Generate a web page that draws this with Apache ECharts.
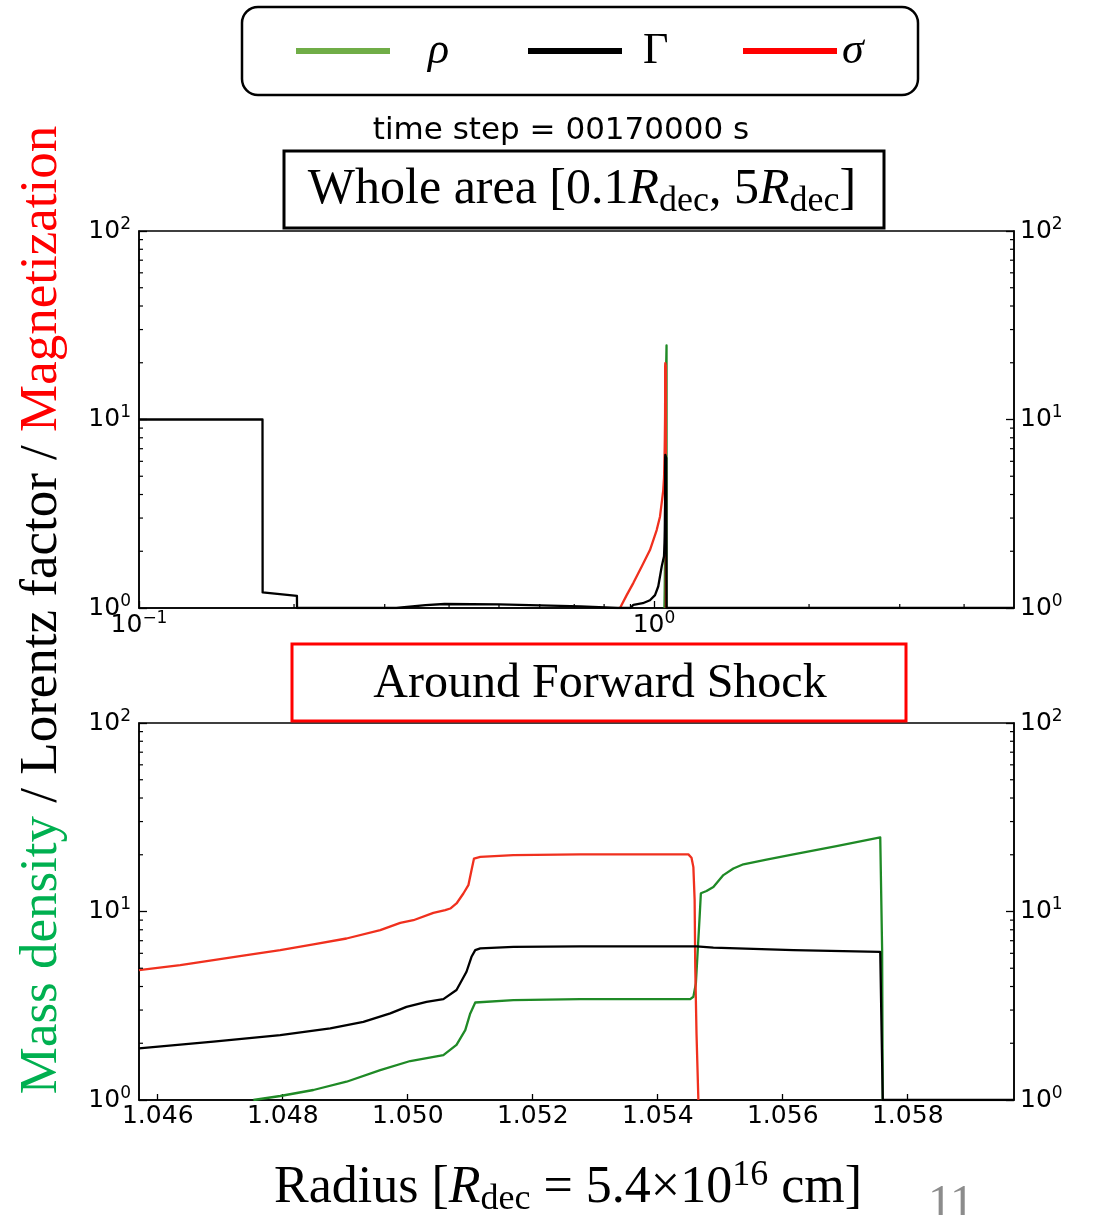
<!DOCTYPE html>
<html><head><meta charset="utf-8">
<script src="https://cdn.jsdelivr.net/npm/echarts@6.0.0/dist/echarts.min.js"></script>
<style>html,body{margin:0;padding:0;background:#fff}#c{width:1094px;height:1215px}</style>
</head><body><div id="c"></div>
<script>
// ---------- DATA ----------
// Top panel (whole area, log x) - parts away from the shock
const gammaRise = [[0.1,10],[0.1737,10],[0.1738,1.21],[0.2026,1.16],[0.2027,1.0],[0.316,1.0],[0.36,1.035],[0.392,1.05],[0.5,1.045],[0.72,1.02],[0.85,1.0],[0.9,1.0],[0.912,1.04],[0.951,1.06],[0.982,1.10],[1.0045,1.17],[1.019,1.30],[1.035,1.66]];
const gammaTail = [[5,1.0]];
const sigmaRise = [[0.859,1.0],[0.885,1.17],[0.912,1.36],[0.9465,1.66],[0.982,2.03],[1.012,2.59],[1.027,3.05],[1.042,4.2]];
// Around forward shock (radius in R_dec, value)
const gammaShock = [[1.0457,1.88],[1.04689,2.04],[1.04796,2.21],[1.04876,2.40],[1.04929,2.60],[1.04972,2.88],[1.04998,3.12],[1.0503,3.32],[1.05057,3.43],[1.05078,3.83],[1.05094,4.79],[1.05102,5.75],[1.05108,6.24],[1.05116,6.37],[1.05169,6.49],[1.05276,6.53],[1.05462,6.53],[1.05489,6.43],[1.05617,6.24],[1.05756,6.11],[1.0576,1.0],[1.0597,1.0]];
const sigmaShock = [[1.0457,4.89],[1.04636,5.19],[1.04689,5.52],[1.04742,5.87],[1.04796,6.24],[1.04849,6.69],[1.04902,7.19],[1.04956,7.96],[1.04988,8.70],[1.05009,8.99],[1.05041,9.83],[1.0506,10.16],[1.05068,10.37],[1.05078,11.03],[1.05089,12.46],[1.05097,13.79],[1.05102,16.55],[1.05106,19.09],[1.05116,19.47],[1.05169,19.9],[1.05276,20.1],[1.05449,20.1],[1.05454,19.3],[1.05457,17.2],[1.05459,11.5],[1.0546,5.09],[1.05462,2.26],[1.05465,1.0]];
const rhoShock = [[1.04753,1.0],[1.04796,1.05],[1.04849,1.13],[1.04902,1.25],[1.04956,1.44],[1.05004,1.61],[1.05057,1.73],[1.05078,1.96],[1.05092,2.35],[1.051,2.88],[1.05108,3.29],[1.05169,3.39],[1.05276,3.43],[1.05452,3.43],[1.05457,3.53],[1.05461,4.15],[1.05464,6.24],[1.05467,9.36],[1.05469,12.5],[1.05478,12.85],[1.05489,13.5],[1.05505,15.6],[1.05521,16.9],[1.05537,17.8],[1.05574,18.86],[1.05617,20.1],[1.05686,22.2],[1.05756,24.7],[1.05758,24.4],[1.05759,6.24],[1.0576,1.0]];
// axis ticks
const yMinorTicks = [2,3,4,5,6,7,8,9,20,30,40,50,60,70,80,90];
const xMinorTicksWhole = [0.2,0.3,0.4,0.5,0.6,0.7,0.8,0.9,2,3,4];

const gammaWhole = gammaRise.concat(gammaShock, gammaTail);
const sigmaWhole = sigmaRise.concat(sigmaShock);
const rhoWhole = rhoShock;

// ---------- STYLE ----------
const GREEN = '#1f8a26', RED = '#f0301e', BLACK = '#000';
const SERIF = 'Liberation Serif', SANS = 'DejaVu Sans';

function pow10(v){
  const l = Math.log10(v), e = Math.round(l);
  if (Math.abs(l - e) > 1e-6) return '';
  return '{b|10}{s|' + (e < 0 ? '\u2212' + (-e) : e) + '}';
}
const powRich = {
  b:{fontFamily:SANS,fontSize:25,color:'#000',lineHeight:30},
  s:{fontFamily:SANS,fontSize:17,color:'#000',lineHeight:17,verticalAlign:'top'}
};
function logY(gridIndex, pos){
  return {type:'log', gridIndex, position:pos, min:1, max:100, logBase:10,
    axisLine:{show:true,lineStyle:{color:'#000',width:1.5}},
    axisTick:{show:true,inside:true,length:8,lineStyle:{color:'#000',width:1.3}},
    splitLine:{show:false},
    axisLabel:{formatter:pow10, rich:powRich, margin:pos==='left'?8:6}};
}
function tickSeries(xIdx, yIdx, vals, axis, refVal, len){
  return {type:'custom', xAxisIndex:xIdx, yAxisIndex:yIdx, silent:true, z:10, clip:false,
    data: vals.map(v => axis==='y' ? [refVal, v] : [v, refVal]),
    renderItem: function(params, api){
      const cs = params.coordSys;
      const p = api.coord([api.value(0), api.value(1)]);
      const st = {stroke:'#000', lineWidth:1.2};
      if (axis === 'y') return {type:'group', children:[
        {type:'line', shape:{x1:cs.x, y1:p[1], x2:cs.x+len, y2:p[1]}, style:st},
        {type:'line', shape:{x1:cs.x+cs.width-len, y1:p[1], x2:cs.x+cs.width, y2:p[1]}, style:st}]};
      return {type:'line', shape:{x1:p[0], y1:cs.y+cs.height, x2:p[0], y2:cs.y+cs.height-len}, style:st};
    }};
}
function line(name, data, xi, yi, color){
  return {name, type:'line', data, xAxisIndex:xi, yAxisIndex:yi, showSymbol:false, symbol:'none',
    lineStyle:{color, width:2.3, join:'round'}, itemStyle:{color}, z:3};
}

const serifRich = {
  t:{fontFamily:SERIF,fontSize:50,fill:'#000',lineHeight:60},
  i:{fontFamily:SERIF,fontSize:50,fontStyle:'italic',fill:'#000',lineHeight:60},
  sub:{fontFamily:SERIF,fontSize:36,fill:'#000',lineHeight:34,verticalAlign:'bottom'},
  sup:{fontFamily:SERIF,fontSize:36,fill:'#000',lineHeight:30,verticalAlign:'top'}
};
const serifRich2 = JSON.parse(JSON.stringify(serifRich));
['t','i'].forEach(k=>{serifRich2[k].fontSize=52;});

const chart = echarts.init(document.getElementById('c'), null, {renderer:'canvas'});
chart.setOption({
  animation:false,
  backgroundColor:'#fff',
  grid:[
    {left:139, top:231, width:875, height:377, show:true, borderColor:'#000', borderWidth:1.5},
    {left:139, top:723, width:875, height:377, show:true, borderColor:'#000', borderWidth:1.5}
  ],
  xAxis:[
    {type:'log', gridIndex:0, min:0.1, max:5, logBase:10,
      axisLine:{lineStyle:{color:'#000',width:1.5}},
      axisTick:{inside:true,length:7,lineStyle:{color:'#000',width:1.3}},
      splitLine:{show:false},
      axisLabel:{formatter:pow10, rich:powRich, margin:2, showMaxLabel:false}},
    {type:'value', gridIndex:1, min:1.0457, max:1.0597, splitNumber:7,
      axisLine:{lineStyle:{color:'#000',width:1.5}},
      axisTick:{inside:true,length:6,lineStyle:{color:'#000',width:1.3}},
      splitLine:{show:false},
      axisLabel:{formatter:v=>v.toFixed(3), fontFamily:SANS, fontSize:25, color:'#000', margin:4,
        showMinLabel:false, showMaxLabel:false}}
  ],
  yAxis:[ logY(0,'left'), logY(0,'right'), logY(1,'left'), logY(1,'right') ],
  legend:{
    left:242, top:7, orient:'horizontal', icon:'rect', itemWidth:94, itemHeight:6, itemGap:5,
    padding:[22,50,22,54], borderColor:'#000', borderWidth:2.5, borderRadius:16, selectedMode:false,
    data:[{name:'ρ',itemStyle:{color:'#70AD47'}},{name:'Γ',itemStyle:{color:'#000'}},{name:'σ',itemStyle:{color:'#FF0000'}}],
    formatter:n => n==='ρ' ? '{r|ρ}' : (n==='Γ' ? '{g|Γ}' : '{s|σ}'),
    textStyle:{rich:{
      r:{fontFamily:SERIF,fontStyle:'italic',fontSize:44,lineHeight:44,width:95,padding:[0,0,0,33],color:'#000'},
      g:{fontFamily:SERIF,fontSize:44,lineHeight:44,width:95,padding:[0,0,0,16],color:'#000'},
      s:{fontFamily:SERIF,fontStyle:'italic',fontSize:44,lineHeight:44,width:26,color:'#000'}
    }}
  },
  graphic:[
    {type:'text', x:561, y:131, style:{text:'time step = 00170000 s', font:'31px "DejaVu Sans"', fill:'#000', align:'center', verticalAlign:'middle'}},
    {type:'rect', shape:{x:284,y:151,width:600,height:77}, style:{fill:'none',stroke:'#000',lineWidth:3}, z:20},
    {type:'text', x:582, y:190, z:21, style:{text:'{t|Whole area [0.1}{i|R}{sub|dec}{t|, 5}{i|R}{sub|dec}{t|]}', rich:serifRich, align:'center', verticalAlign:'middle'}},
    {type:'rect', shape:{x:292,y:644,width:614,height:77}, style:{fill:'none',stroke:'#FF0000',lineWidth:3}, z:20},
    {type:'text', x:600, y:684, z:21, style:{text:'Around Forward Shock', font:'48px "Liberation Serif"', fill:'#000', align:'center', verticalAlign:'middle'}},
    {type:'text', x:42, y:610, rotation:Math.PI/2, z:21, style:{
      text:'{g|Mass density}{k| / Lorentz factor / }{r|Magnetization}', align:'center', verticalAlign:'middle',
      rich:{g:{fontFamily:SERIF,fontSize:53,fill:'#00B050'},k:{fontFamily:SERIF,fontSize:53,fill:'#000'},r:{fontFamily:SERIF,fontSize:53,fill:'#FF0000'}}}},
    {type:'text', x:568, y:1188, z:21, style:{text:'{t|Radius [}{i|R}{sub|dec}{t| = 5.4\u00d710}{sup|16}{t| cm]}', rich:serifRich2, align:'center', verticalAlign:'middle'}},
    {type:'text', x:951, y:1205, z:21, style:{text:'11', font:'48px "Liberation Serif"', fill:'#8c8c8c', align:'center', verticalAlign:'middle'}}
  ],
  series:[
    line('ρ', rhoWhole, 0, 0, GREEN),
    line('σ', sigmaWhole, 0, 0, RED),
    line('Γ', gammaWhole, 0, 0, BLACK),
    line('ρ', rhoShock, 1, 2, GREEN),
    line('σ', sigmaShock, 1, 2, RED),
    line('Γ', gammaShock, 1, 2, BLACK),
    tickSeries(0, 0, yMinorTicks, 'y', 1, 4),
    tickSeries(1, 2, yMinorTicks, 'y', 1.05, 4),
    tickSeries(0, 0, xMinorTicksWhole, 'x', 1, 4)
  ]
});
</script>
</body></html>
